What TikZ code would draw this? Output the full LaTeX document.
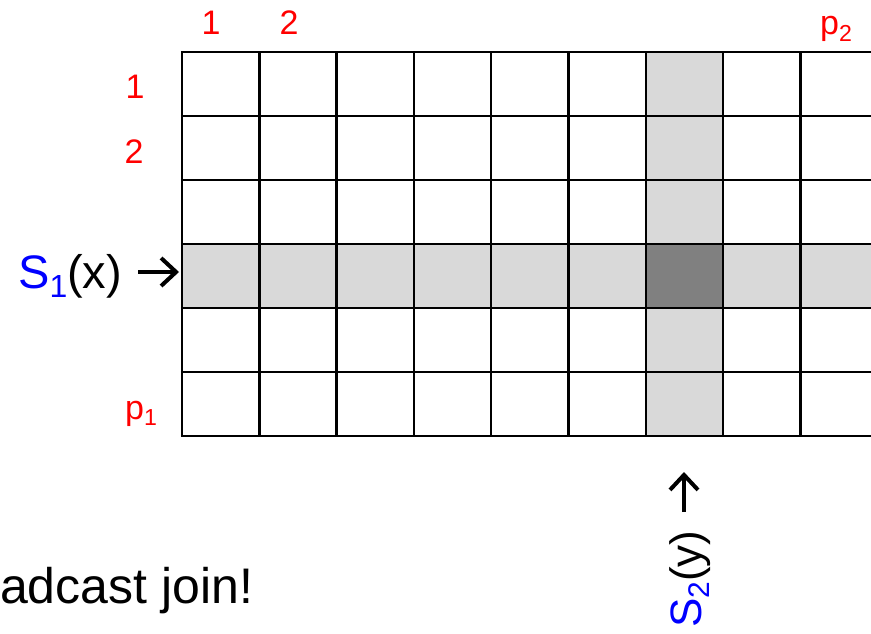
\documentclass[tikz,border=0pt]{standalone}
\usepackage{fontspec}
\setmainfont{Liberation Sans}
\usetikzlibrary{arrows.meta}
\newcommand{\idxsub}[1]{\raisebox{-0.2em}{\scalebox{0.68}{#1}}}
\begin{document}
\begin{tikzpicture}[
  x=1pt, y=-1pt,
  gridline/.style={line width=2.5pt, draw=black},
  lightcell/.style={fill=black!15},
  darkcell/.style={fill=black!50},
  idx/.style={text=red, font=\fontsize{34}{34}\selectfont, inner sep=0pt, anchor=base},
  relname/.style={font=\fontsize{47}{47}\selectfont, inner sep=0pt, anchor=base west},
  relarrow/.style={line width=4pt, -{Straight Barb[length=15pt,width=28pt]}},
  caption/.style={font=\fontsize{50}{50}\selectfont, inner sep=0pt, anchor=base west}
]
  \useasboundingbox (0,0) rectangle (871,634);
  \clip (0,0) rectangle (871,634);

  % Fila y columna resaltadas
  \fill[lightcell] (182,244) rectangle (871,308);
  \fill[lightcell] (645.8,52) rectangle (723.1,436);
  \fill[darkcell] (645.8,244) rectangle (723.1,308);

  % Rejilla
  \foreach \r in {0,...,6}
    \draw[gridline] (180.8,52+64*\r) -- (871,52+64*\r);
  \foreach \c in {0,...,8}
    \draw[gridline] ({182+77.3*\c},52) -- ({182+77.3*\c},436);

  % Indices de columna
  \node[idx] (col1) at (211,35) {1};
  \node[idx] (col2) at (289,35) {2};
  \node[idx] (colp) at (836,35) {p\idxsub{2}};

  % Indices de fila
  \node[idx] (row1) at (135,99) {1};
  \node[idx] (row2) at (134,163) {2};
  \node[idx] (rowp) at (141,419) {p\idxsub{1}};

  % Relaciones
  \node[relname] (s1) at (18,288) {\textcolor{blue}{S\idxsub{1}}(x)};
  \coordinate (s1tail) at (138,272);
  \coordinate (s1tip) at (179,272);
  \draw[relarrow] (s1tail) -- (s1tip);

  \node[relname, rotate=90, font=\fontsize{44}{44}\selectfont] (s2) at (701,628) {\textcolor{blue}{S\idxsub{2}}(y)};
  \coordinate (s2tail) at (684,512);
  \coordinate (s2tip) at (684,472);
  \draw[relarrow] (s2tail) -- (s2tip);

  \node[caption] (bcast) at (0,603) {adcast join!};

\end{tikzpicture}
\end{document}
